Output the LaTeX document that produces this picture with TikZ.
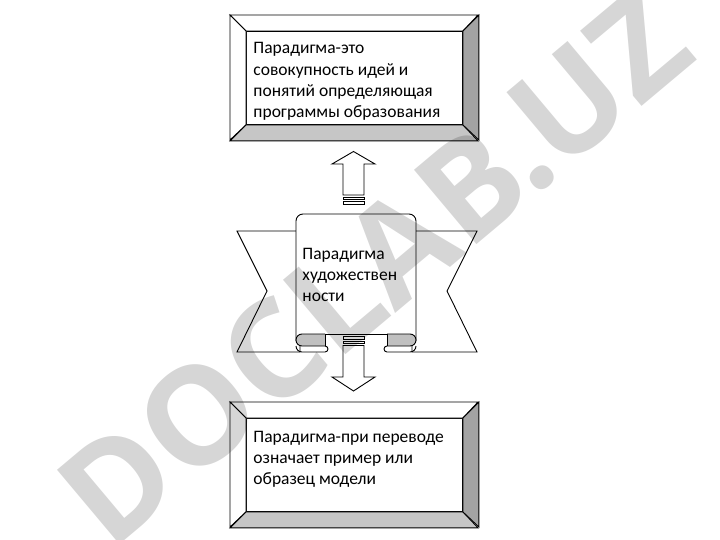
\documentclass[tikz,border=0pt]{standalone}
\usepackage{fontspec}
\setmainfont{Carlito}
\newfontfamily\wmfont{Open Sans}
\begin{document}
\begin{tikzpicture}[x=1pt,y=-1pt,line width=0.9pt,line join=miter,
  innerbox/.style={draw,fill=white,minimum width=216pt,minimum height=93pt,anchor=north west,inner sep=0pt},
  txt/.style={font=\fontsize{17.5}{21.2}\selectfont,align=left,anchor=north west,inner sep=0pt},
  bevlight/.style={draw,fill=white},
  bevright/.style={draw,fill=bevR},
  bevbottom/.style={draw,fill=bevB},
  foldshade/.style={draw,fill=foldG},
  plain/.style={draw,fill=white},
  wm/.style={font=\wmfont\bfseries\fontsize{136}{136}\selectfont,text=black,text opacity=0.16,rotate=40,inner sep=0pt}]
\definecolor{bevR}{HTML}{A3A3A3}
\definecolor{bevB}{HTML}{C6C6C6}
\definecolor{foldG}{HTML}{C0C0C0}
\useasboundingbox (0,0) rectangle (720,540);
\fill[white] (0,0) rectangle (720,540);

% ---------- top box ----------
\node[innerbox] (top) at (246,31) {};
\path[bevlight]  (top.north west) -- ++(-16,-16) -- ++(248,0) -- (top.north east) -- cycle;
\path[bevlight]  (top.north west) -- ++(-16,-16) -- ++(0,125) -- (top.south west) -- cycle;
\path[bevbottom] (top.south west) -- ++(-16,16) -- ++(248,0) -- (top.south east) -- cycle;
\path[bevright]  (top.north east) -- ++(16,-16) -- ++(0,125) -- (top.south east) -- cycle;
\node[txt] (toptext) at (253,42.3) {Парадигма-это\\совокупность идей и\\понятий определяющая\\программы образования};

% ---------- bottom box ----------
\node[innerbox] (bot) at (246,418) {};
\path[bevlight]  (bot.north west) -- ++(-16,-16) -- ++(248,0) -- (bot.north east) -- cycle;
\path[bevlight]  (bot.north west) -- ++(-16,-16) -- ++(0,125) -- (bot.south west) -- cycle;
\path[bevbottom] (bot.south west) -- ++(-16,16) -- ++(248,0) -- (bot.south east) -- cycle;
\path[bevright]  (bot.north east) -- ++(16,-16) -- ++(0,125) -- (bot.south east) -- cycle;
\node[txt] (bottext) at (253,430.5) {Парадигма-при переводе\\означает пример или\\образец модели};

% ---------- ribbon ----------
\path[plain] (237,231) -- (300,231) -- (300,352) -- (237,352) -- (267,291) -- cycle;
\path[plain] (477,231) -- (412,231) -- (412,352) -- (477,352) -- (447,291) -- cycle;
% centre panel
\fill[white] (296,346) -- (296,214) -- (416,214) -- (416,346) -- cycle;
\draw[rounded corners=7pt] (296,341) -- (296,214) -- (416,214) -- (416,341);
\draw (325,334) -- (387,334);
% left fold
\fill[white] (302,346) -- (325,346) -- (325,352) -- (302,352) -- cycle;
\path[foldshade] (325,334) -- (302,334) arc[start angle=270,end angle=90,radius=6] -- (325,346);
\draw (325,334) -- (325,346);
\draw (325,346) arc[start angle=270,end angle=450,radius=3] -- (302,352) arc[start angle=90,end angle=180,radius=6];
% right fold
\path[foldshade] (387,334) -- (410,334) arc[start angle=270,end angle=450,radius=6] -- (387,346);
\draw (387,334) -- (387,346);
\draw (387,346) arc[start angle=270,end angle=90,radius=3] -- (410,352) arc[start angle=90,end angle=0,radius=6];
\node[txt] (midtext) at (302,247.7) {Парадигма\\художествен\\ности};

% ---------- arrows ----------
\path[plain] (343,195) -- (343,164) -- (332,164) -- (353.5,151.5) -- (375,164) -- (364,164) -- (364,195) -- cycle;
\path[plain] (343,197) rectangle (364,199.5);
\path[plain] (343,201.5) rectangle (364,204);
\path[plain] (343,336.5) rectangle (364,339);
\path[plain] (343,341) rectangle (364,343.5);
\path[plain] (343,345.5) -- (343,377) -- (332,377) -- (353.5,391) -- (375,377) -- (364,377) -- (364,345.5) -- cycle;

% ---------- watermark ----------
\node[wm] (wmark) at (374,268) {DOCLAB.UZ};
\end{tikzpicture}
\end{document}
